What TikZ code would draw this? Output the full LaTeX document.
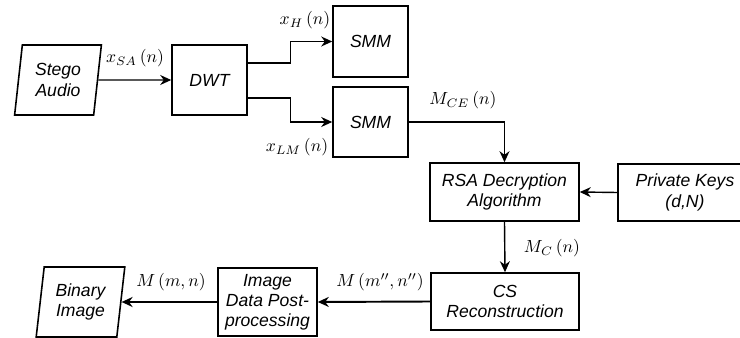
\documentclass[tikz,border=0pt]{standalone}
\usepackage{amsmath}
\usepackage{fontspec}
\usepackage{tikz}
\usetikzlibrary{shapes.geometric, arrows.meta, positioning}
\newfontfamily\arialfont{Liberation Sans}
\tikzset{
    block/.style={rectangle, draw, line width=0.9pt, text centered, align=center, font=\arialfont\itshape\fontsize{10}{11.5}\selectfont},
    iodata/.style={trapezium, trapezium left angle=82, trapezium right angle=98, trapezium stretches=true, draw, line width=0.9pt, text centered, align=center, font=\arialfont\itshape\fontsize{10}{11.5}\selectfont},
    arrow/.style={-{Stealth[length=2.2mm, width=2mm]}, line width=0.8pt},
    sig/.style={font=\normalsize}
}

\begin{document}
\begin{tikzpicture}
    \clip (0,0) rectangle (14.8,-6.76);

    % Inputs and transform
    \node[iodata, minimum width=1.74cm, minimum height=1.4cm] (stego) at (1.16,-1.6) {Stego\\Audio};
    \node[block, minimum width=1.5cm, minimum height=1.4cm] (dwt) at (4.19,-1.6) {DWT};

    % SMM stages
    \node[block, minimum width=1.5cm, minimum height=1.42cm] (smmh) at (7.41,-0.83) {SMM};
    \node[block, minimum width=1.5cm, minimum height=1.4cm] (smml) at (7.41,-2.44) {SMM};

    % Decryption
    \node[block, minimum width=2.98cm, minimum height=1.16cm] (rsa) at (10.09,-3.84) {RSA Decryption\\Algorithm};
    \node[block, minimum width=2.68cm, minimum height=1.14cm] (keys) at (13.7,-3.85) {Private Keys\\(d,N)};

    % Reconstruction and output
    \node[block, minimum width=2.96cm, minimum height=1.14cm] (cs) at (10.1,-6.03) {CS\\Reconstruction};
    \node[block, minimum width=1.98cm, minimum height=1.36cm] (post) at (5.35,-6.04) {Image\\Data Post-\\processing};
    \node[iodata, minimum width=1.78cm, minimum height=1.4cm] (binary) at (1.61,-6.04) {Binary\\Image};

    % Signal labels
    \node[sig] (lsa) at (2.7,-1.16) {$x_{SA}\,(n)$};
    \node[sig] (lh) at (6.1,-0.4) {$x_{H}\,(n)$};
    \node[sig] (llm) at (5.94,-2.94) {$x_{LM}\,(n)$};
    \node[sig] (lce) at (9.26,-2.0) {$M_{CE}\,(n)$};
    \node[sig] (lc) at (11.04,-4.96) {$M_{C}\,(n)$};
    \node[sig] (lmn2) at (7.6,-5.64) {$M\,(m'',n'')$};
    \node[sig] (lmn) at (3.42,-5.64) {$M\,(m,n)$};

    % Connections
    \draw[arrow] (stego) -- (dwt);
    \draw[arrow] ([yshift=0.34cm]dwt.east) -- ++(0.86,0) |- (smmh.west);
    \draw[arrow] ([yshift=-0.36cm]dwt.east) -- ++(0.86,0) |- (smml.west);
    \draw[arrow] (smml.east) -| (rsa.north);
    \draw[arrow] (keys.west) -- (rsa.east);
    \draw[arrow] (rsa.south) -- (cs.north);
    \draw[arrow, line width=1.1pt] (cs.west) -- (post.east);
    \draw[arrow, line width=1.1pt] (post.west) -- (binary.east);
\end{tikzpicture}
\end{document}
